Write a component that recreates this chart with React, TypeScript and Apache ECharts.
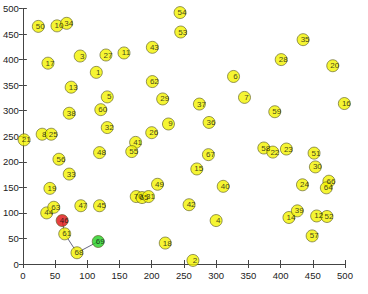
import React, { useEffect, useRef } from "react";
import * as echarts from "echarts";

const nodeLabels = [
  "50", "10", "34", "54", "53", "43", "11", "27", "3", "17",
  "1", "13", "5", "35", "28", "20", "6", "62", "29", "7",
  "16", "37", "38", "60", "9", "36", "59", "32", "21", "8",
  "25", "26", "41", "55", "48", "67", "56", "15", "33", "58",
  "22", "23", "51", "30", "49", "40", "19", "24", "66", "64",
  "70", "65", "31", "42", "4", "18", "2", "14", "39", "12",
  "52", "57", "44", "63", "47", "45", "46", "61", "68", "69",
];
const nodeX = [
  24, 53, 68, 244, 245, 201, 157, 129, 89, 39,
  114, 75, 131, 435, 401, 481, 327, 201, 217, 344,
  499, 274, 72, 121, 226, 289, 391, 131, 2, 30,
  44, 200, 175, 169, 119, 288, 56, 270, 72, 374,
  388, 409, 452, 454, 209, 311, 42, 434, 475, 471,
  176, 185, 195, 258, 300, 221, 264, 413, 426, 456,
  472, 449, 37, 48, 90, 119, 61, 65, 84, 117,
];
const nodeY = [
  465, 466, 471, 492, 454, 424, 413, 409, 407, 393,
  375, 346, 327, 439, 400, 388, 367, 357, 323, 326,
  314, 313, 295, 302, 274, 277, 298, 267, 243, 254,
  254, 257, 238, 220, 218, 214, 205, 186, 176, 227,
  219, 225, 217, 190, 156, 152, 148, 155, 162, 149,
  132, 130, 132, 116, 85, 41, 7, 91, 104, 94,
  93, 55, 100, 111, 114, 114, 85, 59, 22, 44,
];
const startNode = "46";
const endNode = "69";
const pathNodes = ["46", "61", "68", "69"];
const ticks = [0, 50, 100, 150, 200, 250, 300, 350, 400, 450, 500];

export default function App() {
  const ref = useRef<HTMLDivElement>(null);
  useEffect(() => {
    const chart = echarts.init(ref.current!, null, { renderer: "svg" });
    const pts = nodeLabels.map((n, i) => {
      const isStart = n === startNode;
      const isEnd = n === endNode;
      return {
        name: n,
        value: [nodeX[i], nodeY[i]],
        itemStyle: {
          color: isStart ? "#e01010" : isEnd ? "#20d020" : "#f2f200",
          borderColor: "#5a5a20",
          borderWidth: 0.8,
        },
      };
    });
    const pathData = pathNodes.map((n) => {
      const i = nodeLabels.indexOf(n);
      return [nodeX[i], nodeY[i]];
    });
    const axisCommon = {
      type: "value" as const,
      min: 0,
      max: 500,
      interval: 50,
      splitLine: { show: false },
      axisLine: { show: true, lineStyle: { color: "#444", width: 1 } },
      axisTick: { show: true, inside: true, length: 4, lineStyle: { color: "#444" } },
    };
    chart.setOption({
      animation: false,
      backgroundColor: "#ffffff",
      grid: { left: 19.5, right: 23, top: 8.5, bottom: 30 },
      xAxis: [
        {
          ...axisCommon,
          position: "bottom",
          axisLabel: { color: "#222", fontSize: 9.5, fontFamily: "Liberation Sans", margin: 6 },
        },
        { ...axisCommon, position: "top", axisLabel: { show: false } },
      ],
      yAxis: [
        {
          ...axisCommon,
          position: "left",
          axisLabel: { color: "#222", fontSize: 9.5, fontFamily: "Liberation Sans", margin: 4 },
        },
        { ...axisCommon, position: "right", axisLabel: { show: false } },
      ],
      series: [
        {
          type: "line",
          data: pathData,
          symbol: "none",
          lineStyle: { color: "#404060", width: 0.8 },
          z: 1,
        },
        {
          type: "scatter",
          data: pts,
          symbolSize: 12,
          z: 2,
          label: {
            show: true,
            position: "inside",
            offset: [2, 0],
            formatter: (p: any) => p.name,
            color: "#111",
            fontSize: 8,
            fontFamily: "Liberation Sans",
          },
        },
      ],
    });
    return () => chart.dispose();
  }, []);
  return (
    <div
      ref={ref}
      style={{ position: "fixed", left: 0, top: 0, width: 368, height: 294, background: "#fff" }}
    />
  );
}
